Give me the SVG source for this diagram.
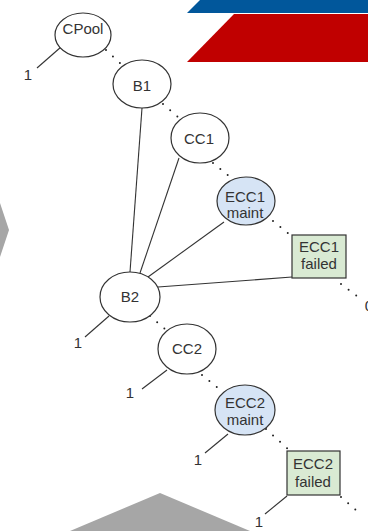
<svg xmlns="http://www.w3.org/2000/svg" width="368" height="531" viewBox="0 0 368 531">
  <style>
    .node { fill: #ffffff; stroke: #333333; stroke-width: 1.2; }
    .maint { fill: #d6e4f5; stroke: #333333; stroke-width: 1.2; }
    .failed { fill: #d9ead3; stroke: #333333; stroke-width: 1.2; }
    .edge { stroke: #333333; stroke-width: 1.1; fill: none; }
    .dots { stroke: #222222; stroke-width: 2; stroke-linecap: round; stroke-dasharray: 0 9.5; fill: none; }
    text { font-family: "Liberation Sans", Arial, sans-serif; font-size: 15px; fill: #333333; text-anchor: middle; }
  </style>

  <!-- background decoration -->
  <g id="decor">
    <polygon points="200,0 368,0 368,13 187,13" fill="#01579b"/>
    <polygon points="234,14 368,14 368,62 187,62" fill="#c00000"/>
    <polygon points="0,203 9,230 0,257" fill="#a6a6a6"/>
    <polygon points="160,493 250,531 70,531" fill="#a6a6a6"/>
  </g>

  <!-- connectors -->
  <g id="connectors">
    <line class="edge" x1="142" y1="108" x2="130" y2="272"/>
    <line class="edge" x1="179" y1="158" x2="140" y2="273"/>
    <line class="edge" x1="224" y1="222" x2="148" y2="277"/>
    <line class="edge" x1="292" y1="277" x2="158" y2="287"/>

    <line class="edge" x1="61" y1="47" x2="37" y2="68"/>
    <line class="edge" x1="109" y1="316" x2="85" y2="337"/>
    <line class="edge" x1="167" y1="370" x2="142" y2="389"/>
    <line class="edge" x1="228" y1="434" x2="205" y2="453"/>
    <line class="edge" x1="287" y1="496" x2="265" y2="514"/>

    <path class="dots" d="M106,50 L121,64"/>
    <path class="dots" d="M163,104 L178,117"/>
    <path class="dots" d="M213,163 L230,177"/>
    <path class="dots" d="M273,221 L289,234"/>
    <path class="dots" d="M341,284 L357,296"/>
    <path class="dots" d="M150,316 L165,329"/>
    <path class="dots" d="M202,375 L218,388"/>
    <path class="dots" d="M266,429 L289,450"/>
    <path class="dots" d="M341,497 L357,511"/>

    <text x="28" y="80">1</text>
    <text x="78" y="348">1</text>
    <text x="130" y="398">1</text>
    <text x="198" y="465">1</text>
    <text x="259" y="527">1</text>
    <text x="369" y="311">0</text>
  </g>

  <!-- nodes -->
  <g id="cpool">
    <ellipse class="node" cx="83" cy="35" rx="28" ry="22"/>
    <text x="83" y="34">CPool</text>
  </g>
  <g id="b1">
    <ellipse class="node" cx="142" cy="84" rx="29" ry="24"/>
    <text x="142" y="91">B1</text>
  </g>
  <g id="cc1">
    <ellipse class="node" cx="200" cy="138" rx="29" ry="25"/>
    <text x="199" y="144">CC1</text>
  </g>
  <g id="ecc1-maint">
    <ellipse class="maint" cx="246" cy="201" rx="29" ry="24"/>
    <text x="245" y="202">ECC1</text>
    <text x="245" y="218">maint</text>
  </g>
  <g id="ecc1-failed">
    <rect class="failed" x="292" y="235" width="54" height="43"/>
    <text x="319" y="252">ECC1</text>
    <text x="319" y="269">failed</text>
  </g>
  <g id="b2">
    <ellipse class="node" cx="130" cy="297" rx="30" ry="25"/>
    <text x="130" y="302">B2</text>
  </g>
  <g id="cc2">
    <ellipse class="node" cx="187" cy="349" rx="29" ry="25"/>
    <text x="187" y="354">CC2</text>
  </g>
  <g id="ecc2-maint">
    <ellipse class="maint" cx="245" cy="410" rx="30" ry="25"/>
    <text x="245" y="408">ECC2</text>
    <text x="245" y="425">maint</text>
  </g>
  <g id="ecc2-failed">
    <rect class="failed" x="287" y="451" width="53" height="44"/>
    <text x="313" y="469">ECC2</text>
    <text x="313" y="487">failed</text>
  </g>
</svg>
